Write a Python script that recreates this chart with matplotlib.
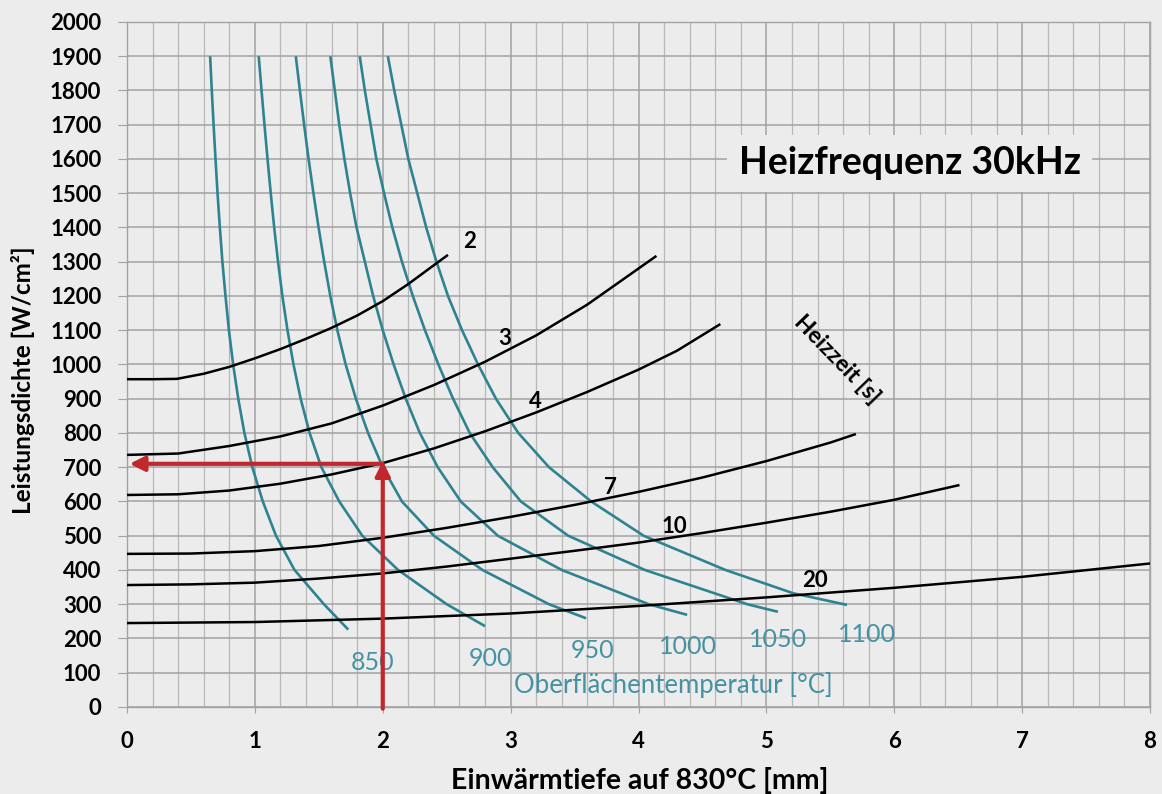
import numpy as np
import matplotlib
matplotlib.use('Agg')
import matplotlib.pyplot as plt

plt.rcParams['font.family'] = ['Lato', 'DejaVu Sans']

# Heizzeit curves (black): Einwärmtiefe [mm] -> Leistungsdichte [W/cm2]
heizzeit_labels = ['2', '3', '4', '7', '10', '20']
hz_2_x = [0, 0.2, 0.39, 0.6, 0.8, 1.0, 1.2, 1.4, 1.6, 1.8, 2.0, 2.2, 2.4, 2.51]
hz_2_y = [957, 957, 958, 973, 993, 1018, 1045, 1075, 1107, 1143, 1185, 1235, 1290, 1320]
hz_3_x = [0, 0.4, 0.8, 1.2, 1.6, 2.0, 2.4, 2.8, 3.2, 3.6, 4.14]
hz_3_y = [736, 740, 762, 790, 828, 880, 940, 1008, 1085, 1175, 1317]
hz_4_x = [0, 0.4, 0.8, 1.2, 1.6, 2.0, 2.4, 2.8, 3.2, 3.6, 4.0, 4.3, 4.64]
hz_4_y = [619, 621, 632, 652, 679, 712, 755, 805, 860, 920, 985, 1040, 1118]
hz_7_x = [0, 0.5, 1.0, 1.5, 2.0, 2.5, 3.0, 3.5, 4.0, 4.5, 5.0, 5.5, 5.70]
hz_7_y = [447, 448, 455, 470, 494, 523, 555, 590, 628, 670, 718, 772, 797]
hz_10_x = [0, 0.5, 1.0, 1.5, 2.0, 2.5, 3.0, 3.5, 4.0, 4.5, 5.0, 5.5, 6.0, 6.51]
hz_10_y = [356, 358, 363, 375, 390, 410, 433, 456, 480, 508, 538, 570, 605, 648]
hz_20_x = [0, 1, 2, 3, 4, 5, 6, 7, 8]
hz_20_y = [245, 248, 258, 273, 295, 320, 348, 380, 419]

# Oberflächentemperatur curves (teal): x read at each power level
temp_labels = ['850', '900', '950', '1000', '1050', '1100']
t_levels = [1900, 1800, 1700, 1600, 1500, 1400, 1300, 1200, 1100, 1000, 900, 800, 700, 600]
t_850_x = [0.650, 0.663, 0.677, 0.692, 0.708, 0.726, 0.746, 0.770, 0.797, 0.830, 0.870, 0.918, 0.980, 1.062]
t_900_x = [1.030, 1.052, 1.075, 1.099, 1.124, 1.151, 1.181, 1.215, 1.255, 1.302, 1.358, 1.428, 1.520, 1.660]
t_950_x = [1.320, 1.352, 1.385, 1.420, 1.458, 1.498, 1.542, 1.590, 1.645, 1.710, 1.790, 1.885, 2.000, 2.150]
t_1000_x = [1.590, 1.625, 1.660, 1.700, 1.745, 1.795, 1.860, 1.925, 2.000, 2.085, 2.180, 2.290, 2.430, 2.610]
t_1050_x = [1.820, 1.860, 1.905, 1.950, 2.010, 2.075, 2.150, 2.235, 2.330, 2.435, 2.550, 2.680, 2.860, 3.080]
t_1100_x = [2.040, 2.090, 2.145, 2.200, 2.270, 2.340, 2.420, 2.510, 2.620, 2.745, 2.885, 3.060, 3.300, 3.630]
# lower tails (x, y) down to the end of each curve
t_850_tail = ([1.165, 1.310, 1.540, 1.730], [500, 400, 300, 226])
t_900_tail = ([1.840, 2.120, 2.500, 2.800], [500, 400, 300, 236])
t_950_tail = ([2.400, 2.780, 3.300, 3.590], [500, 400, 300, 259])
t_1000_tail = ([2.900, 3.400, 4.080, 4.380], [500, 400, 300, 269])
t_1050_tail = ([3.450, 4.050, 4.850, 5.090], [500, 400, 300, 278])
t_1100_tail = ([4.040, 4.680, 5.210, 5.630], [500, 400, 332, 298])

# example reading (red arrows)
read_x = 2.0
read_y = 710

bg = '#ececec'
teal = '#2f8391'
teal_txt = '#4592a3'
red = '#c1272d'

fig = plt.figure(figsize=(11.62, 7.94), dpi=100, facecolor=bg)
ax = fig.add_axes([0.1093, 0.1096, 0.8804, 0.8627], facecolor=bg)

ax.set_xlim(0, 8)
ax.set_ylim(0, 2000)
ax.set_xticks(np.arange(0, 9, 1))
ax.set_xticks(np.arange(0, 8.01, 0.2), minor=True)
ax.set_yticks(np.arange(0, 2001, 100))
ax.grid(which='major', color='#a2a2a2', lw=1.1, zorder=0)
ax.grid(which='minor', axis='x', color='#b8b8b8', lw=0.9, zorder=0)
ax.set_axisbelow(True)
for s in ax.spines.values():
    s.set_color('#a2a2a2')
    s.set_linewidth(1.0)
ax.tick_params(axis='y', which='major', length=6.5, color='#a2a2a2',
               labelsize=16, pad=12)
ax.tick_params(axis='x', which='major', length=4.5, color='#a2a2a2',
               labelsize=16, pad=13)
ax.tick_params(axis='x', which='minor', length=0)
for lab in ax.get_xticklabels() + ax.get_yticklabels():
    lab.set_fontweight('bold')

ax.set_xlabel('Einwärmtiefe auf 830°C [mm]', fontsize=20.5, fontweight='bold')
ax.xaxis.set_label_coords(0.5015, -0.087)
ax.set_ylabel('Leistungsdichte [W/cm²]', fontsize=17.5, fontweight='bold')
ax.yaxis.set_label_coords(-0.09, 0.477)

# Heizzeit curves
hz_series = [(hz_2_x, hz_2_y), (hz_3_x, hz_3_y), (hz_4_x, hz_4_y),
             (hz_7_x, hz_7_y), (hz_10_x, hz_10_y), (hz_20_x, hz_20_y)]
for xs, ys in hz_series:
    ax.plot(xs, ys, color='black', lw=1.8, zorder=3, solid_capstyle='butt',
            solid_joinstyle='round')

# temperature curves
t_series = [(t_850_x, t_850_tail), (t_900_x, t_900_tail), (t_950_x, t_950_tail),
            (t_1000_x, t_1000_tail), (t_1050_x, t_1050_tail), (t_1100_x, t_1100_tail)]
for xs, tail in t_series:
    ax.plot(list(xs) + tail[0], t_levels + tail[1], color=teal, lw=1.9,
            zorder=2, solid_capstyle='butt', solid_joinstyle='round')

# red reading arrows
ax.annotate('', xy=(read_x, read_y + 8), xytext=(read_x, -5),
            arrowprops=dict(arrowstyle='-|>', color=red, lw=3,
                            mutation_scale=22, shrinkA=0, shrinkB=0),
            zorder=5, annotation_clip=False)
ax.annotate('', xy=(0.02, read_y), xytext=(read_x, read_y),
            arrowprops=dict(arrowstyle='-|>', color=red, lw=3,
                            mutation_scale=22, shrinkA=0, shrinkB=0),
            zorder=5)

# labels of Heizzeit curves
hz_label_pos = [(2.68, 1360), (2.95, 1075), (3.19, 893), (3.78, 640),
                (4.28, 528), (5.38, 368)]
for lab, (px, py) in zip(heizzeit_labels, hz_label_pos):
    ax.text(px, py, lab, fontsize=16, fontweight='bold', ha='center',
            va='center', zorder=4)
ax.text(5.55, 1015, 'Heizzeit [s]', fontsize=16.5, fontweight='bold',
        rotation=-46, ha='center', va='center', zorder=4)

# labels of temperature curves
t_label_pos = [(1.92, 131), (2.84, 143), (3.64, 165), (4.39, 176),
               (5.09, 196), (5.79, 213)]
for lab, (px, py) in zip(temp_labels, t_label_pos):
    ax.text(px, py, lab, fontsize=18, color=teal_txt, ha='center',
            va='center', zorder=4)
ax.text(4.27, 64, 'Oberflächentemperatur [°C]', fontsize=18.5, color=teal_txt,
        ha='center', va='center', zorder=4)

ax.text(6.12, 1587, 'Heizfrequenz 30kHz', fontsize=27, fontweight='bold',
        ha='center', va='center', zorder=4,
        bbox=dict(boxstyle='square,pad=0.3', facecolor=bg, edgecolor='none'))

fig.savefig('out.png', dpi=100, facecolor=bg)
